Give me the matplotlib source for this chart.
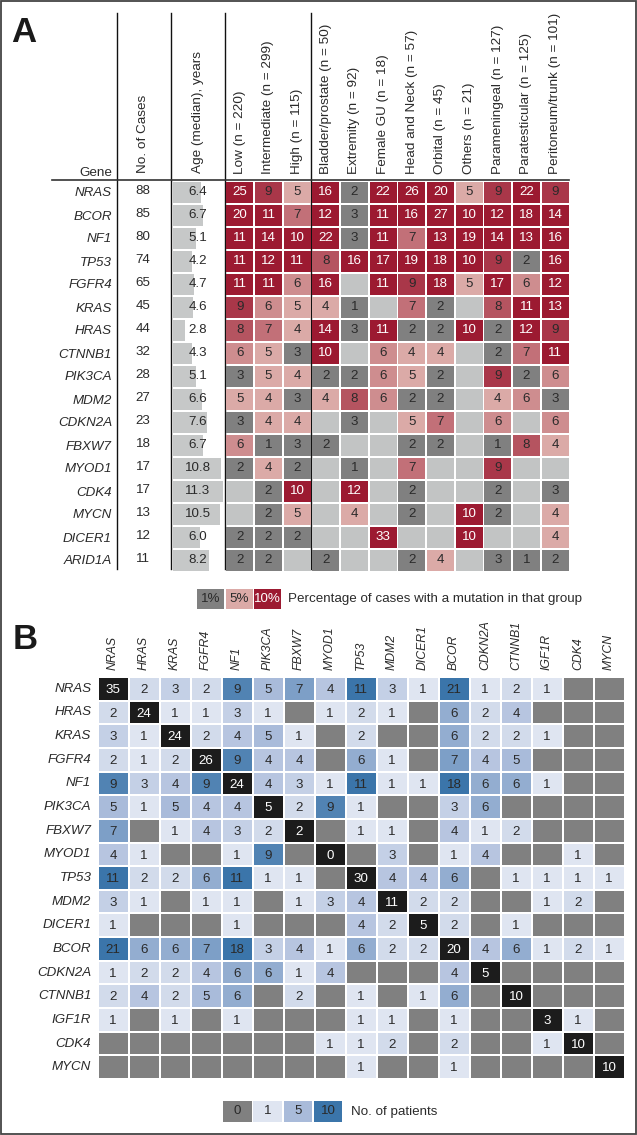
import numpy as np
import matplotlib
matplotlib.use('Agg')
import matplotlib.pyplot as plt
from matplotlib.colors import to_rgb, LinearSegmentedColormap
from matplotlib.patches import Rectangle

plt.rcParams['font.family'] = ['Liberation Sans', 'DejaVu Sans']

W, H = 637, 1135

# ---- panel A data ----
genes_a = ['NRAS', 'BCOR', 'NF1', 'TP53', 'FGFR4', 'KRAS', 'HRAS', 'CTNNB1', 'PIK3CA',
           'MDM2', 'CDKN2A', 'FBXW7', 'MYOD1', 'CDK4', 'MYCN', 'DICER1', 'ARID1A']
n_cases = [88, 85, 80, 74, 65, 45, 44, 32, 28, 27, 23, 18, 17, 17, 13, 12, 11]
age_median = [6.4, 6.7, 5.1, 4.2, 4.7, 4.6, 2.8, 4.3, 5.1, 6.6, 7.6, 6.7, 10.8, 11.3, 10.5, 6.0, 8.2]
groups = ['Low (n = 220)', 'Intermediate (n = 299)', 'High (n = 115)',
          'Bladder/prostate (n = 50)', 'Extremity (n = 92)', 'Female GU (n = 18)',
          'Head and Neck (n = 57)', 'Orbital (n = 45)', 'Others (n = 21)',
          'Parameningeal (n = 127)', 'Paratesticular (n = 125)', 'Peritoneum/trunk (n = 101)']
N = None
pct = [
    [25, 9, 5, 16, 2, 22, 26, 20, 5, 9, 22, 9],
    [20, 11, 7, 12, 3, 11, 16, 27, 10, 12, 18, 14],
    [11, 14, 10, 22, 3, 11, 7, 13, 19, 14, 13, 16],
    [11, 12, 11, 8, 16, 17, 19, 18, 10, 9, 2, 16],
    [11, 11, 6, 16, N, 11, 9, 18, 5, 17, 6, 12],
    [9, 6, 5, 4, 1, N, 7, 2, N, 8, 11, 13],
    [8, 7, 4, 14, 3, 11, 2, 2, 10, 2, 12, 9],
    [6, 5, 3, 10, N, 6, 4, 4, N, 2, 7, 11],
    [3, 5, 4, 2, 2, 6, 5, 2, N, 9, 2, 6],
    [5, 4, 3, 4, 8, 6, 2, 2, N, 4, 6, 3],
    [3, 4, 4, N, 3, N, 5, 7, N, 6, N, 6],
    [6, 1, 3, 2, N, N, 2, 2, N, 1, 8, 4],
    [2, 4, 2, N, 1, N, 7, N, N, 9, N, N],
    [N, 2, 10, N, 12, N, 2, N, N, 2, N, 3],
    [N, 2, 5, N, 4, N, 2, N, 10, 2, N, 4],
    [2, 2, 2, N, N, 33, N, N, 10, N, N, 4],
    [2, 2, N, 2, N, N, 2, 4, N, 3, 1, 2],
]

# ---- panel B data ----
genes_b = ['NRAS', 'HRAS', 'KRAS', 'FGFR4', 'NF1', 'PIK3CA', 'FBXW7', 'MYOD1', 'TP53',
           'MDM2', 'DICER1', 'BCOR', 'CDKN2A', 'CTNNB1', 'IGF1R', 'CDK4', 'MYCN']
co_mut = [
    [35, 2, 3, 2, 9, 5, 7, 4, 11, 3, 1, 21, 1, 2, 1, 0, 0],
    [2, 24, 1, 1, 3, 1, 0, 1, 2, 1, 0, 6, 2, 4, 0, 0, 0],
    [3, 1, 24, 2, 4, 5, 1, 0, 2, 0, 0, 6, 2, 2, 1, 0, 0],
    [2, 1, 2, 26, 9, 4, 4, 0, 6, 1, 0, 7, 4, 5, 0, 0, 0],
    [9, 3, 4, 9, 24, 4, 3, 1, 11, 1, 1, 18, 6, 6, 1, 0, 0],
    [5, 1, 5, 4, 4, 5, 2, 9, 1, 0, 0, 3, 6, 0, 0, 0, 0],
    [7, 0, 1, 4, 3, 2, 2, 0, 1, 1, 0, 4, 1, 2, 0, 0, 0],
    [4, 1, 0, 0, 1, 9, 0, 0, 0, 3, 0, 1, 4, 0, 0, 1, 0],
    [11, 2, 2, 6, 11, 1, 1, 0, 30, 4, 4, 6, 0, 1, 1, 1, 1],
    [3, 1, 0, 1, 1, 0, 1, 3, 4, 11, 2, 2, 0, 0, 1, 2, 0],
    [1, 0, 0, 0, 1, 0, 0, 0, 4, 2, 5, 2, 0, 1, 0, 0, 0],
    [21, 6, 6, 7, 18, 3, 4, 1, 6, 2, 2, 20, 4, 6, 1, 2, 1],
    [1, 2, 2, 4, 6, 6, 1, 4, 0, 0, 0, 4, 5, 0, 0, 0, 0],
    [2, 4, 2, 5, 6, 0, 2, 0, 1, 0, 1, 6, 0, 10, 0, 0, 0],
    [1, 0, 1, 0, 1, 0, 0, 0, 1, 1, 0, 1, 0, 0, 3, 1, 0],
    [0, 0, 0, 0, 0, 0, 0, 1, 1, 2, 0, 2, 0, 0, 1, 10, 0],
    [0, 0, 0, 0, 0, 0, 0, 0, 1, 0, 0, 1, 0, 0, 0, 0, 10],
]

# colours
EMPTY = '#c2c4c4'
GRAY = '#808080'
PINK = np.array(to_rgb('#dbaaa7'))
RED = np.array(to_rgb('#9c1a31'))
blues = LinearSegmentedColormap.from_list('b', [(0, '#dfe5f1'), (4 / 9, '#a9bbda'), (1, '#3b75aa')])
DIAG = '#1c1c1c'


def color_a(v):
    if v is None:
        return EMPTY
    if v < 4:
        return GRAY
    t = np.clip((v - 5) / 5, 0, 1)
    return tuple(PINK + (RED - PINK) * t)


def color_b(v):
    if v == 0:
        return GRAY
    return blues(np.clip((v - 1) / 9, 0, 1))


def px_axes(fig, x0, y0, x1, y1):
    ax = fig.add_axes([x0 / W, 1 - y1 / H, (x1 - x0) / W, (y1 - y0) / H])
    ax.axis('off')
    return ax


fig = plt.figure(figsize=(W / 100, H / 100), dpi=100)
bg = px_axes(fig, 0, 0, W, H)
bg.set_xlim(0, W)
bg.set_ylim(H, 0)

FS = 9.6    # cell numbers / labels
FH = 9.7    # rotated headers
TXT = '#2a2a2a'

# ================= panel A =================
bg.text(11, 42, 'A', fontsize=25, fontweight='bold', color='#1a1a1a', va='baseline')
bg.text(112, 176, 'Gene', fontsize=FH, ha='right', va='baseline', color=TXT)
bg.text(143, 173, 'No. of Cases', fontsize=FH, rotation=90, ha='center', va='bottom', color=TXT)
bg.text(197.5, 173, 'Age (median), years', fontsize=FH, rotation=90, ha='center', va='bottom', color=TXT)
for x in [117, 171, 225, 311]:
    bg.plot([x, x], [13, 569], color='#111111', lw=1.0)
bg.plot([52, 569], [180, 180], color='#333333', lw=1.2)

nr = len(genes_a)
row_top, row_h = 180.5, 23.0
for i, g in enumerate(genes_a):
    yc = row_top + (i + 0.5) * row_h
    bg.text(112, yc + 1.5, g, fontsize=FS, style='italic', ha='right', va='center', color=TXT)
    bg.text(143, yc - 1, str(n_cases[i]), fontsize=FS, ha='center', va='center', color=TXT)

# age bars
ax_age = px_axes(fig, 173, row_top, 225, row_top + nr * row_h)
ax_age.set_xlim(0, 52 / 4.44)
ax_age.set_ylim(nr, 0)
ax_age.barh(np.arange(nr) + 0.5, age_median, height=21 / 23, color='#c6c8c8')
for i, a in enumerate(age_median):
    ax_age.text(0.48, i + 0.5, f'{a:.1f}', fontsize=FS, ha='center', va='center',
                color=TXT, transform=ax_age.get_yaxis_transform())

# heatmap of percentages
nc = len(groups)
ax_a = px_axes(fig, 225.5, row_top, 569.5, row_top + nr * row_h)
ax_a.set_xlim(0, nc)
ax_a.set_ylim(nr, 0)
gx, gy = 1 / 28.7, 1 / 23
for i, row in enumerate(pct):
    for j, v in enumerate(row):
        ax_a.add_patch(Rectangle((j + gx, i + gy), 1 - 2 * gx, 1 - 2 * gy, color=color_a(v), lw=0))
        if v is not None:
            ax_a.text(j + 0.5, i + 0.5, str(v), fontsize=FS, ha='center', va='center',
                      color='white' if v >= 10 else TXT)
for j, lab in enumerate(groups):
    ax_a.text(j + 0.5, -0.3, lab, fontsize=FH, rotation=90, ha='center', va='bottom',
              color=TXT, clip_on=False)

# legend A
for k, (v, lab) in enumerate([(1, '1%'), (5, '5%'), (10, '10%')]):
    x0 = 197 + k * 28.5
    bg.add_patch(Rectangle((x0, 589), 27, 20, color=color_a(v), lw=0))
    bg.text(x0 + 13.5, 599, lab, fontsize=FS, ha='center', va='center',
            color='white' if v >= 10 else TXT)
bg.text(288, 599, 'Percentage of cases with a mutation in that group', fontsize=FS,
        ha='left', va='center', color=TXT)

# ================= panel B =================
bg.text(13, 649, 'B', fontsize=25, fontweight='bold', color='#1a1a1a', va='baseline')
nb = len(genes_b)
ax_b = px_axes(fig, 97.5, 677, 624.5, 1079)
ax_b.set_xlim(0, nb)
ax_b.set_ylim(nb, 0)
gx, gy = 1 / 31, 1 / 23.65
for i, row in enumerate(co_mut):
    for j, v in enumerate(row):
        c = DIAG if i == j else color_b(v)
        ax_b.add_patch(Rectangle((j + gx, i + gy), 1 - 2 * gx, 1 - 2 * gy, color=c, lw=0))
        if i == j:
            ax_b.text(j + 0.5, i + 0.55, str(v), fontsize=FS, ha='center', va='center', color='white')
        elif v > 0:
            ax_b.text(j + 0.5, i + 0.55, str(v), fontsize=FS, ha='center', va='center', color=TXT)
for k, g in enumerate(genes_b):
    ax_b.text(-0.2, k + 0.5, g, fontsize=FS, style='italic', ha='right', va='center',
              color=TXT, clip_on=False)
    ax_b.text(k + 0.5, -0.3, g, fontsize=8.8, style='italic', rotation=90, ha='center',
              va='bottom', color=TXT, clip_on=False)

# legend B
for k, v in enumerate([0, 1, 5, 10]):
    x0 = 223 + k * 30.3
    bg.add_patch(Rectangle((x0, 1101), 28.5, 21, color=color_b(v), lw=0))
    bg.text(x0 + 14.25, 1111.5, str(v), fontsize=FS, ha='center', va='center', color=TXT)
bg.text(351, 1111.5, 'No. of patients', fontsize=FS, ha='left', va='center', color=TXT)

# outer frame
bg.add_patch(Rectangle((1, 1), W - 2.5, H - 2.5, fill=False, ec='#444444', lw=1.3))

fig.savefig('out.png', dpi=100)
